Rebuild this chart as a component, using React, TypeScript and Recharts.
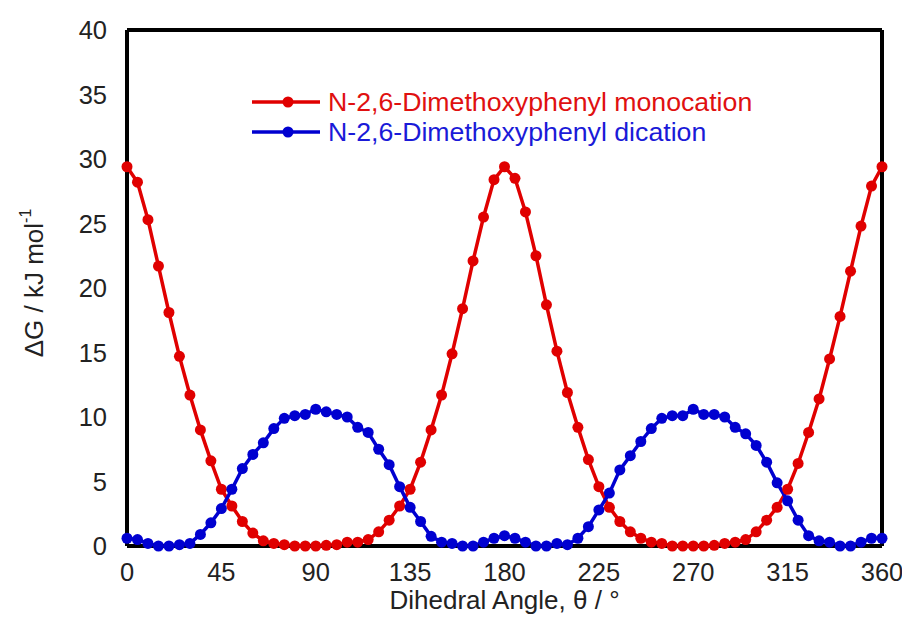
import { LineChart, Line, XAxis, YAxis } from 'recharts';

const angles = [
  0, 5, 10, 15, 20, 25, 30, 35, 40, 45, 50, 55, 60, 65, 70, 75, 80, 85, 90, 95,
  100, 105, 110, 115, 120, 125, 130, 135, 140, 145, 150, 155, 160, 165, 170, 175, 180, 185, 190, 195,
  200, 205, 210, 215, 220, 225, 230, 235, 240, 245, 250, 255, 260, 265, 270, 275, 280, 285, 290, 295,
  300, 305, 310, 315, 320, 325, 330, 335, 340, 345, 350, 355, 360,
];

const monocation = [
  29.4, 28.2, 25.3, 21.7, 18.1, 14.7, 11.7, 9.0, 6.6, 4.4, 3.1, 1.9, 1.0, 0.4, 0.2, 0.1, 0, 0, 0, 0.05,
  0.1, 0.3, 0.3, 0.5, 1.1, 2.0, 3.1, 4.4, 6.5, 9.0, 11.7, 14.9, 18.4, 22.1, 25.5, 28.4, 29.4, 28.5, 25.9, 22.5,
  18.7, 15.1, 11.9, 9.2, 6.7, 4.6, 3.0, 1.9, 1.1, 0.6, 0.3, 0.2, 0, 0, 0, 0, 0.05, 0.2, 0.3, 0.5,
  1.1, 2.0, 3.0, 4.4, 6.4, 8.8, 11.4, 14.5, 17.8, 21.3, 24.8, 27.9, 29.4,
];

const dication = [
  0.6, 0.5, 0.2, 0, 0, 0.1, 0.2, 0.9, 1.8, 2.9, 4.4, 6.0, 7.1, 8.0, 9.1, 9.9, 10.1, 10.2, 10.6, 10.4,
  10.2, 10.0, 9.2, 8.8, 7.5, 6.3, 4.6, 3.0, 1.9, 0.75, 0.3, 0.2, 0, 0, 0.3, 0.6, 0.8, 0.6, 0.3, 0,
  0, 0.2, 0.1, 0.6, 1.5, 2.8, 4.1, 5.9, 7.0, 8.1, 9.1, 9.9, 10.1, 10.1, 10.6, 10.2, 10.2, 10.0, 9.2, 8.7,
  7.8, 6.5, 4.9, 3.5, 2.0, 0.8, 0.4, 0.3, 0, 0, 0.3, 0.6, 0.6,
];

const xTicks = [0, 45, 90, 135, 180, 225, 270, 315, 360];
const yTicks = [0, 5, 10, 15, 20, 25, 30, 35, 40];

const RED = '#e00000';
const BLUE = '#0000d0';
const FONT = '"Liberation Sans", Arial, sans-serif';

const data = angles.map((a, i) => ({ angle: a, mono: monocation[i], di: dication[i] }));

const legendItems = [
  { label: 'N-2,6-Dimethoxyphenyl monocation', color: RED, text: '#e01010' },
  { label: 'N-2,6-Dimethoxyphenyl dication', color: BLUE, text: '#1a1ad8' },
];

// legend is laid over the plot, like the original figure
const LegendBox = () => (
  <div style={{ position: 'absolute', left: 244, top: 79, fontFamily: FONT }}>
    {legendItems.map((it) => (
      <div key={it.label} style={{ display: 'flex', alignItems: 'center', height: 30 }}>
        <svg width={68} height={30}>
          <line x1={0} y1={15} x2={68} y2={15} stroke={it.color} strokeWidth={3.5} />
          <circle cx={36} cy={15} r={5.5} fill={it.color} />
        </svg>
        <span style={{ marginLeft: 8, fontSize: 26.7, color: it.text, lineHeight: '30px', whiteSpace: 'nowrap' }}>
          {it.label}
        </span>
      </div>
    ))}
  </div>
);

const YTitle = (props: any) => {
  const vb = props.viewBox;
  const cx = vb.x + 35;
  const cy = vb.y + vb.height / 2 - 5;
  return (
    <text
      x={cx}
      y={cy}
      transform={`rotate(-90 ${cx} ${cy})`}
      textAnchor="middle"
      fontSize={26}
      fontFamily={FONT}
      fill="#222"
    >
      ΔG / kJ mol<tspan fontSize={16} dy={-12}>-1</tspan>
    </text>
  );
};

const XTitle = (props: any) => {
  const vb = props.viewBox;
  return (
    <text
      x={vb.x + vb.width / 2}
      y={vb.y + 63}
      textAnchor="middle"
      fontSize={26}
      fontFamily={FONT}
      fill="#222"
    >
      Dihedral Angle, θ / °
    </text>
  );
};

export default function App() {
  const frame = { stroke: '#000', strokeWidth: 4 };
  const tickL = { stroke: '#000', strokeWidth: 3 };
  const tickStyle = { fontSize: 25.5, fontFamily: FONT, fill: '#222' };
  return (
    <div style={{ position: 'relative', width: 894, height: 611 }}>
      <LineChart width={894} height={611} data={data} margin={{ top: 22, right: 20, left: 0, bottom: 0 }}>
        <XAxis
          xAxisId="b"
          dataKey="angle"
          type="number"
          domain={[0, 360]}
          ticks={xTicks}
          height={73}
          tickSize={0}
          tickMargin={17}
          axisLine={false}
          tickLine={false}
          tick={tickStyle}
          label={<XTitle />}
        />
        <XAxis xAxisId="bm" dataKey="angle" type="number" domain={[0, 360]} ticks={xTicks} mirror tickSize={12} tick={false} axisLine={frame} tickLine={tickL} allowDataOverflow />
        <XAxis xAxisId="tm" orientation="top" dataKey="angle" type="number" domain={[0, 360]} ticks={xTicks} mirror tickSize={12} tick={false} axisLine={frame} tickLine={tickL} allowDataOverflow />
        <YAxis
          yAxisId="l"
          type="number"
          domain={[0, 40]}
          ticks={yTicks}
          width={119}
          tickSize={0}
          tickMargin={20}
          axisLine={false}
          tickLine={false}
          tick={tickStyle}
          label={<YTitle />}
        />
        <YAxis yAxisId="lm" type="number" domain={[0, 40]} ticks={yTicks} mirror tickSize={12} tick={false} axisLine={frame} tickLine={tickL} allowDataOverflow />
        <YAxis yAxisId="rm" orientation="right" type="number" domain={[0, 40]} ticks={yTicks} mirror tickSize={12} tick={false} axisLine={frame} tickLine={tickL} allowDataOverflow />
        <Line
          xAxisId="b"
          yAxisId="l"
          dataKey="mono"
          stroke={RED}
          strokeWidth={3.5}
          dot={{ r: 5.5, fill: RED, stroke: RED, strokeWidth: 0 }}
          isAnimationActive={false}
        />
        <Line
          xAxisId="b"
          yAxisId="l"
          dataKey="di"
          stroke={BLUE}
          strokeWidth={3.5}
          dot={{ r: 5.5, fill: BLUE, stroke: BLUE, strokeWidth: 0 }}
          isAnimationActive={false}
        />
      </LineChart>
      <LegendBox />
    </div>
  );
}
